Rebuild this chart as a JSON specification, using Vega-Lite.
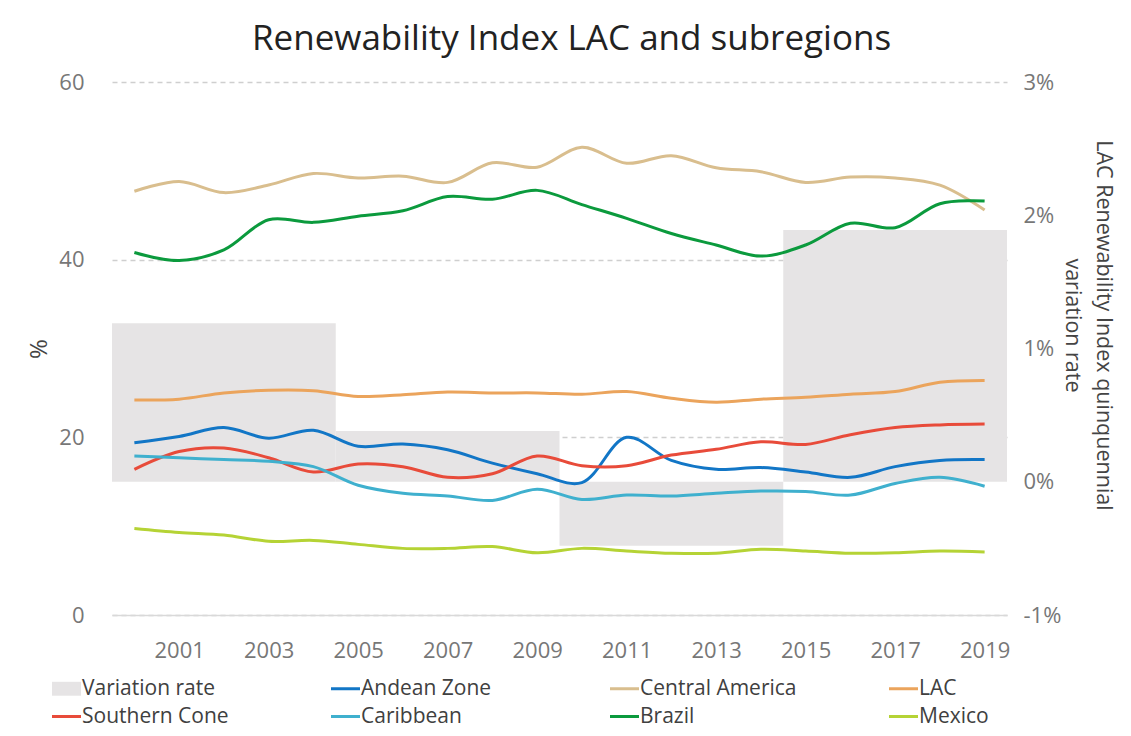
{
  "$schema": "https://vega.github.io/schema/vega-lite/v6.json",
  "width": 895,
  "height": 533,
  "padding": {"left": 27, "top": 22, "right": 0, "bottom": 0},
  "background": "white",
  "title": {"text": "Renewability Index LAC and subregions", "fontSize": 35, "font": "Open Sans", "fontWeight": "normal", "color": "#222222", "anchor": "middle", "offset": 14, "dx": 12},
  "config": {
    "view": {"stroke": null},
    "font": "Open Sans",
    "axis": {"labelFont": "Open Sans", "titleFont": "Open Sans"},
    "legend": {"labelFont": "Open Sans"}
  },
  "datasets": {
    "rates": [
      {"series": "Variation rate", "start": 1999.5, "end": 2004.5, "rate": 1.19},
      {"series": "Variation rate", "start": 2004.5, "end": 2009.5, "rate": 0.38},
      {"series": "Variation rate", "start": 2009.5, "end": 2014.5, "rate": -0.48},
      {"series": "Variation rate", "start": 2014.5, "end": 2019.5, "rate": 1.89}
    ],
    "lines": [
      {"series": "Andean Zone", "year": 2000, "value": 19.4},
      {"series": "Andean Zone", "year": 2001, "value": 20.1},
      {"series": "Andean Zone", "year": 2002, "value": 21.1},
      {"series": "Andean Zone", "year": 2003, "value": 19.9},
      {"series": "Andean Zone", "year": 2004, "value": 20.8},
      {"series": "Andean Zone", "year": 2005, "value": 19.0},
      {"series": "Andean Zone", "year": 2006, "value": 19.25},
      {"series": "Andean Zone", "year": 2007, "value": 18.6},
      {"series": "Andean Zone", "year": 2008, "value": 17.1},
      {"series": "Andean Zone", "year": 2009, "value": 15.9},
      {"series": "Andean Zone", "year": 2010, "value": 14.9},
      {"series": "Andean Zone", "year": 2011, "value": 20.0},
      {"series": "Andean Zone", "year": 2012, "value": 17.4},
      {"series": "Andean Zone", "year": 2013, "value": 16.4},
      {"series": "Andean Zone", "year": 2014, "value": 16.6},
      {"series": "Andean Zone", "year": 2015, "value": 16.1},
      {"series": "Andean Zone", "year": 2016, "value": 15.5},
      {"series": "Andean Zone", "year": 2017, "value": 16.7},
      {"series": "Andean Zone", "year": 2018, "value": 17.4},
      {"series": "Andean Zone", "year": 2019, "value": 17.5},
      {"series": "Central America", "year": 2000, "value": 47.7},
      {"series": "Central America", "year": 2001, "value": 48.8},
      {"series": "Central America", "year": 2002, "value": 47.55},
      {"series": "Central America", "year": 2003, "value": 48.4},
      {"series": "Central America", "year": 2004, "value": 49.7},
      {"series": "Central America", "year": 2005, "value": 49.2},
      {"series": "Central America", "year": 2006, "value": 49.4},
      {"series": "Central America", "year": 2007, "value": 48.7},
      {"series": "Central America", "year": 2008, "value": 50.9},
      {"series": "Central America", "year": 2009, "value": 50.4},
      {"series": "Central America", "year": 2010, "value": 52.65},
      {"series": "Central America", "year": 2011, "value": 50.85},
      {"series": "Central America", "year": 2012, "value": 51.7},
      {"series": "Central America", "year": 2013, "value": 50.35},
      {"series": "Central America", "year": 2014, "value": 49.9},
      {"series": "Central America", "year": 2015, "value": 48.7},
      {"series": "Central America", "year": 2016, "value": 49.3},
      {"series": "Central America", "year": 2017, "value": 49.2},
      {"series": "Central America", "year": 2018, "value": 48.4},
      {"series": "Central America", "year": 2019, "value": 45.6},
      {"series": "LAC", "year": 2000, "value": 24.2},
      {"series": "LAC", "year": 2001, "value": 24.3},
      {"series": "LAC", "year": 2002, "value": 25.0},
      {"series": "LAC", "year": 2003, "value": 25.3},
      {"series": "LAC", "year": 2004, "value": 25.25},
      {"series": "LAC", "year": 2005, "value": 24.6},
      {"series": "LAC", "year": 2006, "value": 24.8},
      {"series": "LAC", "year": 2007, "value": 25.1},
      {"series": "LAC", "year": 2008, "value": 25.0},
      {"series": "LAC", "year": 2009, "value": 25.0},
      {"series": "LAC", "year": 2010, "value": 24.85},
      {"series": "LAC", "year": 2011, "value": 25.15},
      {"series": "LAC", "year": 2012, "value": 24.4},
      {"series": "LAC", "year": 2013, "value": 23.95},
      {"series": "LAC", "year": 2014, "value": 24.3},
      {"series": "LAC", "year": 2015, "value": 24.5},
      {"series": "LAC", "year": 2016, "value": 24.85},
      {"series": "LAC", "year": 2017, "value": 25.15},
      {"series": "LAC", "year": 2018, "value": 26.2},
      {"series": "LAC", "year": 2019, "value": 26.4},
      {"series": "Southern Cone", "year": 2000, "value": 16.4},
      {"series": "Southern Cone", "year": 2001, "value": 18.4},
      {"series": "Southern Cone", "year": 2002, "value": 18.8},
      {"series": "Southern Cone", "year": 2003, "value": 17.7},
      {"series": "Southern Cone", "year": 2004, "value": 16.1},
      {"series": "Southern Cone", "year": 2005, "value": 17.0},
      {"series": "Southern Cone", "year": 2006, "value": 16.7},
      {"series": "Southern Cone", "year": 2007, "value": 15.5},
      {"series": "Southern Cone", "year": 2008, "value": 15.9},
      {"series": "Southern Cone", "year": 2009, "value": 17.9},
      {"series": "Southern Cone", "year": 2010, "value": 16.8},
      {"series": "Southern Cone", "year": 2011, "value": 16.8},
      {"series": "Southern Cone", "year": 2012, "value": 18.0},
      {"series": "Southern Cone", "year": 2013, "value": 18.65},
      {"series": "Southern Cone", "year": 2014, "value": 19.5},
      {"series": "Southern Cone", "year": 2015, "value": 19.2},
      {"series": "Southern Cone", "year": 2016, "value": 20.3},
      {"series": "Southern Cone", "year": 2017, "value": 21.1},
      {"series": "Southern Cone", "year": 2018, "value": 21.4},
      {"series": "Southern Cone", "year": 2019, "value": 21.5},
      {"series": "Caribbean", "year": 2000, "value": 17.9},
      {"series": "Caribbean", "year": 2001, "value": 17.7},
      {"series": "Caribbean", "year": 2002, "value": 17.5},
      {"series": "Caribbean", "year": 2003, "value": 17.3},
      {"series": "Caribbean", "year": 2004, "value": 16.7},
      {"series": "Caribbean", "year": 2005, "value": 14.6},
      {"series": "Caribbean", "year": 2006, "value": 13.7},
      {"series": "Caribbean", "year": 2007, "value": 13.4},
      {"series": "Caribbean", "year": 2008, "value": 12.9},
      {"series": "Caribbean", "year": 2009, "value": 14.15},
      {"series": "Caribbean", "year": 2010, "value": 13.0},
      {"series": "Caribbean", "year": 2011, "value": 13.5},
      {"series": "Caribbean", "year": 2012, "value": 13.4},
      {"series": "Caribbean", "year": 2013, "value": 13.7},
      {"series": "Caribbean", "year": 2014, "value": 13.95},
      {"series": "Caribbean", "year": 2015, "value": 13.9},
      {"series": "Caribbean", "year": 2016, "value": 13.5},
      {"series": "Caribbean", "year": 2017, "value": 14.8},
      {"series": "Caribbean", "year": 2018, "value": 15.5},
      {"series": "Caribbean", "year": 2019, "value": 14.5},
      {"series": "Brazil", "year": 2000, "value": 40.8},
      {"series": "Brazil", "year": 2001, "value": 39.9},
      {"series": "Brazil", "year": 2002, "value": 41.1},
      {"series": "Brazil", "year": 2003, "value": 44.5},
      {"series": "Brazil", "year": 2004, "value": 44.2},
      {"series": "Brazil", "year": 2005, "value": 44.9},
      {"series": "Brazil", "year": 2006, "value": 45.5},
      {"series": "Brazil", "year": 2007, "value": 47.1},
      {"series": "Brazil", "year": 2008, "value": 46.8},
      {"series": "Brazil", "year": 2009, "value": 47.8},
      {"series": "Brazil", "year": 2010, "value": 46.2},
      {"series": "Brazil", "year": 2011, "value": 44.65},
      {"series": "Brazil", "year": 2012, "value": 42.95},
      {"series": "Brazil", "year": 2013, "value": 41.65},
      {"series": "Brazil", "year": 2014, "value": 40.4},
      {"series": "Brazil", "year": 2015, "value": 41.65},
      {"series": "Brazil", "year": 2016, "value": 44.1},
      {"series": "Brazil", "year": 2017, "value": 43.6},
      {"series": "Brazil", "year": 2018, "value": 46.3},
      {"series": "Brazil", "year": 2019, "value": 46.6},
      {"series": "Mexico", "year": 2000, "value": 9.75},
      {"series": "Mexico", "year": 2001, "value": 9.3},
      {"series": "Mexico", "year": 2002, "value": 9.0},
      {"series": "Mexico", "year": 2003, "value": 8.3},
      {"series": "Mexico", "year": 2004, "value": 8.4},
      {"series": "Mexico", "year": 2005, "value": 7.95},
      {"series": "Mexico", "year": 2006, "value": 7.5},
      {"series": "Mexico", "year": 2007, "value": 7.5},
      {"series": "Mexico", "year": 2008, "value": 7.7},
      {"series": "Mexico", "year": 2009, "value": 7.0},
      {"series": "Mexico", "year": 2010, "value": 7.5},
      {"series": "Mexico", "year": 2011, "value": 7.2},
      {"series": "Mexico", "year": 2012, "value": 6.95},
      {"series": "Mexico", "year": 2013, "value": 6.95},
      {"series": "Mexico", "year": 2014, "value": 7.4},
      {"series": "Mexico", "year": 2015, "value": 7.2},
      {"series": "Mexico", "year": 2016, "value": 6.95},
      {"series": "Mexico", "year": 2017, "value": 7.0},
      {"series": "Mexico", "year": 2018, "value": 7.2},
      {"series": "Mexico", "year": 2019, "value": 7.1}
    ]
  },
  "layer": [
    {
      "data": {"name": "rates"},
      "mark": {"type": "bar", "opacity": 1},
      "encoding": {
        "x": {"field": "start", "type": "quantitative", "scale": {"domain": [1999.5, 2019.5], "nice": false, "zero": false},
              "axis": {"values": [2001, 2003, 2005, 2007, 2009, 2011, 2013, 2015, 2017, 2019], "format": "d", "title": null, "grid": false, "ticks": false, "domain": true, "domainColor": "#D9D9D9", "domainWidth": 1.5, "labelFontSize": 22, "labelColor": "#777777", "labelPadding": 25}},
        "x2": {"field": "end"},
        "y": {"field": "rate", "type": "quantitative", "scale": {"domain": [-1, 3], "nice": false},
              "axis": {"orient": "right", "values": [-1, 0, 1, 2, 3], "labelExpr": "datum.value + '%'", "grid": false, "ticks": false, "domain": false, "labelFontSize": 22, "labelColor": "#777777", "labelPadding": 16, "title": ["LAC Renewability Index quinquennial", "variation rate"], "titleFontSize": 21.5, "titleFontWeight": "normal", "titleColor": "#444444", "titlePadding": 0, "titleLineHeight": 31, "titleY": 243}},
        "y2": {"datum": 0},
        "color": {"field": "series", "type": "nominal",
                  "scale": {"domain": ["Variation rate", "Andean Zone", "Central America", "LAC", "Southern Cone", "Caribbean", "Brazil", "Mexico"],
                            "range": ["#E6E4E5", "#1276C6", "#D9BE8E", "#EBA45C", "#E84B3A", "#3FB0CE", "#0B9A3D", "#B5D335"]},
                  "legend": {"orient": "none", "legendX": -56, "legendY": 596, "columns": 4, "direction": "horizontal", "gridAlign": "all", "columnPadding": 86, "rowPadding": 6, "labelFontSize": 21, "labelLimit": 300, "labelColor": "#404040", "labelOffset": 5, "symbolSize": 841, "title": null,
                             "symbolType": {"expr": "datum.value === 'Variation rate' ? 'M-1,-0.48H1V0.48H-1Z' : 'stroke'"},
                             "symbolStrokeWidth": {"expr": "datum.value === 'Variation rate' ? 0 : 3"},
                             "symbolStrokeColor": {"expr": "scale('color', datum.value)"},
                             "symbolFillColor": {"expr": "scale('color', datum.value)"},
                             "symbolOpacity": 1}}
      }
    },
    {
      "data": {"name": "lines"},
      "mark": {"type": "line", "strokeWidth": 3, "interpolate": "catmull-rom"},
      "encoding": {
        "x": {"field": "year", "type": "quantitative", "scale": {"domain": [1999.5, 2019.5], "nice": false, "zero": false}},
        "y": {"field": "value", "type": "quantitative", "scale": {"domain": [0, 60], "nice": false},
              "axis": {"orient": "left", "values": [0, 20, 40, 60], "grid": true, "gridDash": [5, 4], "gridColor": "#CFCFCF", "gridWidth": 1.5, "ticks": false, "domain": false, "labelFontSize": 22, "labelColor": "#777777", "labelPadding": 28, "title": "%", "titleFontSize": 24, "titleFontWeight": "normal", "titleColor": "#444444", "titlePadding": 7}},
        "color": {"field": "series", "type": "nominal"}
      }
    }
  ],
  "resolve": {"scale": {"y": "independent"}, "axis": {"y": "independent"}}
}
